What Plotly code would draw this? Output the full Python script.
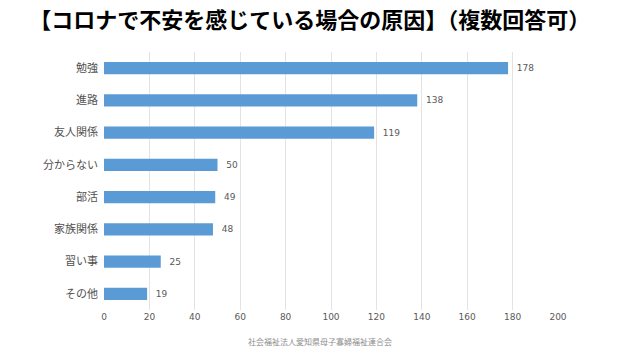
import plotly.graph_objects as go

categories = ["勉強", "進路", "友人関係", "分からない", "部活", "家族関係", "習い事", "その他"]
values = [178, 138, 119, 50, 49, 48, 25, 19]
x_ticks = [0, 20, 40, 60, 80, 100, 120, 140, 160, 180, 200]

title_text = "【コロナで不安を感じている場合の原因】（複数回答可）"
footer_text = "社会福祉法人愛知県母子寡婦福祉連合会"

font_family = "Noto Sans CJK JP, Noto Sans, sans-serif"
num_font = "DejaVu Sans, sans-serif"

fig = go.Figure(go.Bar(
    x=values,
    y=categories,
    orientation="h",
    marker=dict(color="#5B9BD5", line=dict(width=0)),
    text=["  " + str(v) for v in values],
    textposition="outside",
    textfont=dict(size=9, color="#595959", family=num_font),
    cliponaxis=False,
    width=0.38,
))

L, R, T, B = 104, 82, 52, 50
fig.update_layout(
    width=640, height=360,
    paper_bgcolor="white", plot_bgcolor="white",
    margin=dict(l=L, r=R, t=T, b=B),
    showlegend=False,
    font=dict(family=font_family, color="#595959"),
    title=dict(text="<b>" + title_text + "</b>", x=0.484, xanchor="center", y=1 - 20 / 360, yanchor="middle",
               font=dict(size=22, color="#000000", family=font_family)),
    xaxis=dict(range=[0, 200], tickvals=x_ticks, showgrid=True, gridcolor="#E3E3E3", gridwidth=1,
               zeroline=False, showline=False, tickfont=dict(size=9, color="#595959", family=num_font),
               ticks=""),
    yaxis=dict(categoryorder="array", categoryarray=categories[::-1], autorange=True,
               showgrid=False, zeroline=False, showline=False,
               tickfont=dict(size=11, color="#505050"), ticks="", ticksuffix="  "),
)
fig.add_annotation(text=footer_text, xref="paper", yref="paper", x=(320 - L) / (640 - L - R),
                   y=-(341 - (360 - B)) / (360 - T - B),
                   showarrow=False, xanchor="center", yanchor="middle", font=dict(size=8, color="#8C8C8C"))

fig.write_html("out.html", config={"displayModeBar": False},
               post_script="document.body.style.margin='0';document.body.style.overflow='hidden';")
